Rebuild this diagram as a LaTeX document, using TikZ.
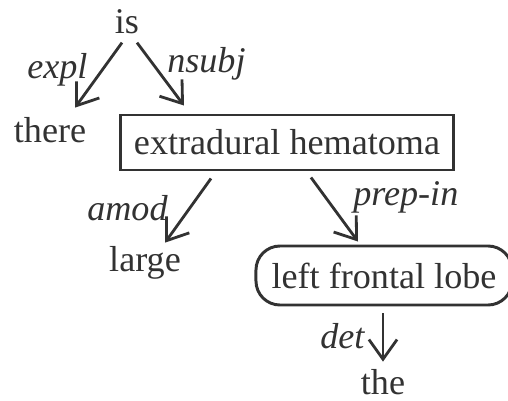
\documentclass[tikz,border=0pt]{standalone}
\usepackage{fontspec}
\setmainfont{Liberation Serif}
\usepackage{tikz}
\usetikzlibrary{arrows.meta, calc}
\definecolor{lineGray}{RGB}{50,50,50}

\begin{document}
\begin{tikzpicture}[
  x=0.025cm, y=-0.025cm,
  every node/.style={font=\fontsize{25.7}{30}\selectfont, text=lineGray},
  word/.style={inner sep=0pt, anchor=base},
  lab/.style={inner sep=0pt, anchor=base west, font=\fontsize{25.7}{30}\selectfont\itshape},
  headbox/.style={rectangle, draw=lineGray, line width=2.1pt, minimum width=8.325cm, minimum height=1.375cm, inner sep=0pt},
  roundbox/.style={rectangle, rounded corners=0.6cm, draw=lineGray, line width=2.1pt, minimum width=6.4cm, minimum height=1.475cm, inner sep=0pt},
  dep/.style={-{Straight Barb[length=14pt, width=20pt]}, line width=2pt, draw=lineGray}
]
\useasboundingbox (0,0) rectangle (508,401);

% Words (placed on their baselines)
\node[word]     (is)    at (127, 33)  {is};
\node[word]     (there) at (50,  142) {there};
\node[headbox]  (ext)   at (287, 142.5) {extradural hematoma};
\node[word]     (large) at (145, 271) {large};
\node[roundbox] (lobe)  at (384, 275.5) {left frontal lobe};
\node[word]     (the)   at (383, 394) {the};

% Relation labels
\node[lab] (lexpl)  at (27,  78)  {expl};
\node[lab] (lnsubj) at (167, 72)  {nsubj};
\node[lab] (lamod)  at (87,  220) {amod};
\node[lab] (lprep)  at (353, 205) {prep-in};
\node[lab] (ldet)   at (320, 348) {det};

% Dependency arrows
\draw[dep] ($(is.south)+(-5,9)$)        -- ($(there.north)+(25,-9)$);
\draw[dep] ($(is.south)+(10,9)$)        -- ($(ext.north west)+(65,-8)$);
\draw[dep] ($(ext.south west)+(92,7)$)  -- ($(large.north)+(20,-3)$);
\draw[dep] ($(ext.south west)+(192,6)$) -- ($(lobe.north)+(-26,-3)$);
\draw[dep] ($(lobe.south)+(-1,7)$)      -- ($(the.north)+(0,-7)$);
\end{tikzpicture}
\end{document}
